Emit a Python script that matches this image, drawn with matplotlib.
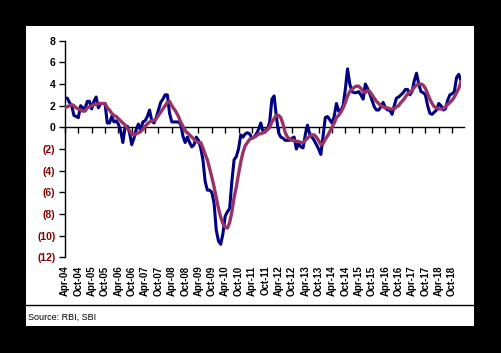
import matplotlib
matplotlib.use("Agg")
import matplotlib.pyplot as plt
from matplotlib.patches import Rectangle
from matplotlib.lines import Line2D
import numpy as np

plt.rcParams['font.family'] = ['Liberation Sans', 'DejaVu Sans']

# Monthly series, Apr-04 .. Feb-19
actual = [2.7, 2.7, 2.3, 2.0, 1.1, 1.0, 0.9, 2.0, 1.8, 1.7,
          2.4, 2.4, 1.7, 2.4, 2.8, 1.8, 2.2, 2.2, 2.2, 0.4,
          0.4, 1.0, 0.5, 0.6, 0.3, -0.3, -1.4, 0.0, 0.1, -0.5,
          -1.6, -1.0, -0.2, 0.3, -0.3, 0.5, 0.6, 1.0, 1.6, 0.6,
          0.4, 0.9, 1.6, 2.3, 2.6, 3.0, 3.0, 1.3, 0.5, 0.5,
          0.5, 0.5, 0.3, -0.8, -1.4, -0.9, -1.4, -1.8, -1.6, -0.9,
          -1.2, -1.9, -3.0, -5.0, -5.8, -5.8, -6.0, -7.0, -9.5, -10.5,
          -10.8, -9.8, -8.2, -7.8, -7.5, -5.0, -3.0, -2.7, -2.0, -0.7,
          -0.9, -0.6, -0.5, -0.6, -1.0, -0.9, -0.6, -0.2, 0.4, -0.4,
          -0.3, -0.2, 0.5, 2.6, 2.9, 1.0, -0.5, -0.9, -1.0, -1.2,
          -1.2, -1.2, -1.0, -0.9, -2.0, -1.5, -1.8, -1.9, -0.7, 0.2,
          -0.6, -0.9, -1.2, -1.6, -2.0, -2.5, -0.8, 0.9, 1.0, 0.7,
          0.4, 1.0, 2.2, 1.5, 1.6, 2.0, 3.5, 5.4, 4.0, 3.3,
          3.2, 3.2, 3.3, 3.0, 2.6, 4.0, 3.6, 3.1, 2.5, 1.9,
          1.6, 1.6, 1.9, 2.3, 1.8, 1.6, 1.6, 1.2, 2.0, 2.7,
          2.8, 3.0, 3.2, 3.5, 3.5, 3.0, 3.3, 4.3, 5.0, 4.0,
          3.3, 3.2, 3.0, 2.0, 1.3, 1.2, 1.4, 1.6, 2.2, 2.0,
          1.6, 1.7, 2.5, 3.0, 3.1, 3.3, 4.6, 4.9, 4.3]

smoothed = [1.8, 1.9, 2.0, 2.1, 2.0, 1.8, 1.7, 1.6, 1.5, 1.5,
            1.8, 1.9, 2.0, 2.1, 2.1, 2.2, 2.2, 2.2, 2.2, 1.8,
            1.6, 1.3, 1.1, 1.0, 0.8, 0.6, 0.4, 0.2, -0.1, -0.3,
            -0.6, -0.7, -0.6, -0.5, -0.4, -0.2, 0.1, 0.3, 0.5, 0.6,
            0.6, 0.8, 1.1, 1.4, 1.7, 2.0, 2.3, 2.4, 2.0, 1.7,
            1.4, 1.0, 0.5, 0.1, -0.3, -0.5, -0.7, -0.9, -1.1, -1.3,
            -1.4, -1.4, -1.9, -2.5, -3.0, -3.8, -4.6, -5.5, -6.5, -7.5,
            -8.3, -8.9, -9.2, -9.3, -8.8, -7.8, -6.5, -5.5, -4.3, -3.2,
            -2.3, -1.7, -1.4, -1.1, -1.0, -0.9, -0.8, -0.6, -0.6, -0.5,
            -0.4, -0.2, 0.0, 0.5, 0.8, 1.1, 1.1, 0.9, 0.3, -0.5,
            -0.9, -1.1, -1.2, -1.2, -1.3, -1.3, -1.4, -1.4, -1.2, -1.0,
            -0.8, -0.7, -0.7, -0.9, -1.2, -1.6, -1.5, -1.1, -0.8, -0.4,
            0.0, 0.4, 0.9, 1.1, 1.4, 1.8, 2.3, 2.9, 3.3, 3.5,
            3.7, 3.8, 3.8, 3.6, 3.3, 3.2, 3.4, 3.3, 3.0, 2.7,
            2.4, 2.2, 2.0, 1.9, 1.8, 1.8, 1.7, 1.7, 1.7, 1.9,
            2.0, 2.3, 2.5, 2.8, 3.1, 3.2, 3.4, 3.7, 3.9, 4.0,
            4.0, 3.9, 3.6, 3.1, 2.6, 2.2, 1.9, 1.8, 1.7, 1.7,
            1.7, 1.9, 2.1, 2.3, 2.5, 2.8, 3.2, 3.6, 4.2]

years = list(range(4, 19))
xlabels = []
for y in years:
    xlabels += [f"Apr-{y:02d}", f"Oct-{y:02d}"]

yticks = list(range(-12, 9, 2))
ylabels = [str(v) if v >= 0 else f"({-v})" for v in yticks]

months = np.arange(len(actual))

fig = plt.figure(figsize=(5.01, 3.53), dpi=100)
fig.patch.set_facecolor('black')

# white panel and separator
fig.add_artist(Rectangle((26/501, 1 - 326/353), 448/501, 300/353,
                         transform=fig.transFigure, facecolor='white',
                         edgecolor='none', zorder=0))
fig.add_artist(Line2D([26/501, 474/501], [1 - 305/353, 1 - 305/353],
                      transform=fig.transFigure, color='black', lw=1))
fig.text(28/501, 1 - 317/353, "Source: RBI, SBI", fontsize=6.5,
         va='center', ha='left', color='black')

ax = fig.add_axes([65/501, 1 - 257.3/353, 396/501, 216.6/353])
ax.patch.set_alpha(0)

ax.plot(months, actual, color='#000080', lw=2.2, solid_joinstyle='round', zorder=3)
ax.plot(months, smoothed, color='#993366', lw=2.4, solid_joinstyle='round', zorder=4)

ax.set_xlim(0, len(actual) - 1)
ax.set_ylim(-12, 8)

for s in ['top', 'right']:
    ax.spines[s].set_visible(False)
ax.spines['bottom'].set_position(('data', 0))
ax.spines['bottom'].set_bounds(0, len(actual) + 0.5)
ax.spines['left'].set_linewidth(1)
ax.spines['bottom'].set_linewidth(1)

tick_pos = np.arange(0, len(actual), 6)
ax.set_xticks(tick_pos)
ax.tick_params(axis='x', direction='out', length=4, width=1, labelbottom=False)

ax.set_yticks(yticks)
ax.set_yticklabels(ylabels, fontsize=7.5, fontweight='bold')
ax.tick_params(axis='y', direction='out', length=4, width=1, pad=3)
for lbl, v in zip(ax.get_yticklabels(), yticks):
    lbl.set_color('black' if v >= 0 else '#800000')

sec = ax.secondary_xaxis(0)
sec.set_xticks(tick_pos)
sec.set_xticklabels(xlabels[:len(tick_pos)], rotation=90, fontsize=7,
                    fontweight='bold')
sec.tick_params(length=0, pad=6)
sec.spines['bottom'].set_visible(False)

fig.savefig('out.png', dpi=100, facecolor='black')
